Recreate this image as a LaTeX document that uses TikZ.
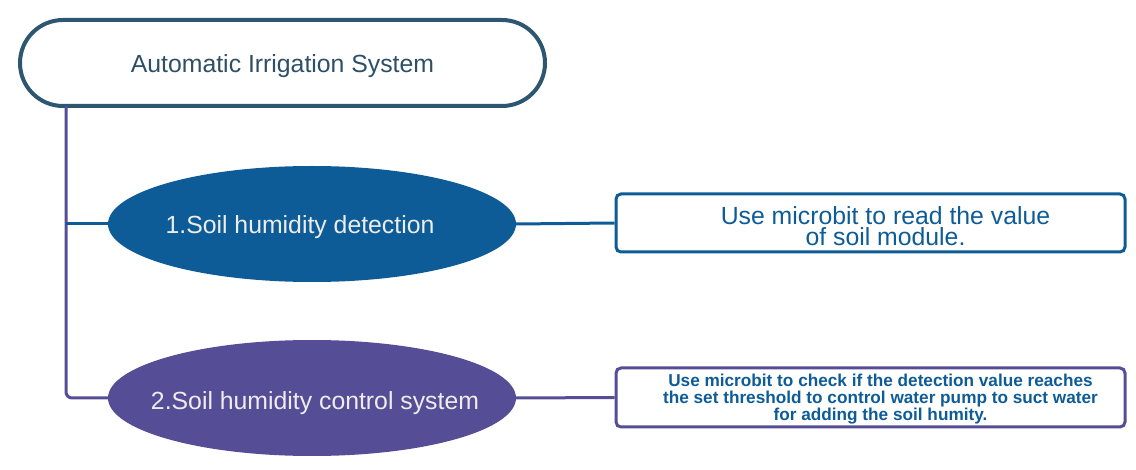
\documentclass[tikz,border=0pt]{standalone}
\usepackage{fontspec}
\setmainfont{Liberation Sans}
\usetikzlibrary{shapes.geometric,shapes.misc}
\definecolor{cblue}{HTML}{0E5C97}
\definecolor{cpurple}{HTML}{554E96}
\definecolor{cslate}{HTML}{2D5670}
\definecolor{ctitle}{HTML}{2F4F66}
\newcommand{\lift}[1]{\rule{0pt}{#1}}
\tikzset{
  titlebox/.style={draw=cslate, line width=4pt, fill=white, rounded rectangle,
    minimum width=525pt, minimum height=86pt, inner sep=0pt,
    text=ctitle, font=\fontsize{24.8pt}{28pt}\selectfont},
  oval/.style={ellipse, minimum width=408pt, minimum height=116pt, inner sep=0pt,
    text=white!93!black, font=\fontsize{24.8pt}{28pt}\selectfont},
  descbox/.style={draw, line width=3pt, fill=white, rounded corners=5pt,
    minimum width=509pt, inner sep=0pt, align=center, text=cblue},
  link/.style={line width=3pt}
}
\begin{document}
\begin{tikzpicture}[x=1pt,y=-1pt]
\useasboundingbox (0,0) rectangle (1136,470);
\node[titlebox] (top) at (282.5,63) {\lift{23.8pt}Automatic Irrigation System};
\node[oval, fill=cblue] (e1) at (312,224) {\lift{23.8pt}\makebox[0pt]{\hspace*{-24pt}1.Soil humidity detection}};
\node[oval, fill=cpurple] (e2) at (312,398) {\lift{27.8pt}\makebox[0pt]{\hspace*{6pt}2.Soil humidity control system}};
\node[descbox, draw=cblue, minimum height=58pt,
  font=\fontsize{24.8pt}{21pt}\selectfont] (d1) at (870.5,223)
  {\lift{23.8pt}\hspace*{30pt}Use microbit to read the value\\\hspace*{30pt}of soil module.};
\node[descbox, draw=cpurple, minimum height=59pt,
  font=\bfseries\fontsize{17.2pt}{17pt}\selectfont] (d2) at (870.5,397.5)
  {\lift{16.3pt}\hspace*{20pt}Use microbit to check if the detection value reaches\\\hspace*{20pt}the set threshold to control water pump to suct water\\\hspace*{20pt}for adding the soil humity.};
\coordinate (trunk) at (66,106);
\draw[link, draw=cpurple, rounded corners=6pt] (trunk) |- (e2.west);
\draw[link, draw=cblue] (e1.west -| trunk) -- (e1.west);
\draw[link, draw=cblue] (e1.east) -- (d1.west);
\draw[link, draw=cpurple] (e2.east) -- (d2.west);
\end{tikzpicture}
\end{document}
